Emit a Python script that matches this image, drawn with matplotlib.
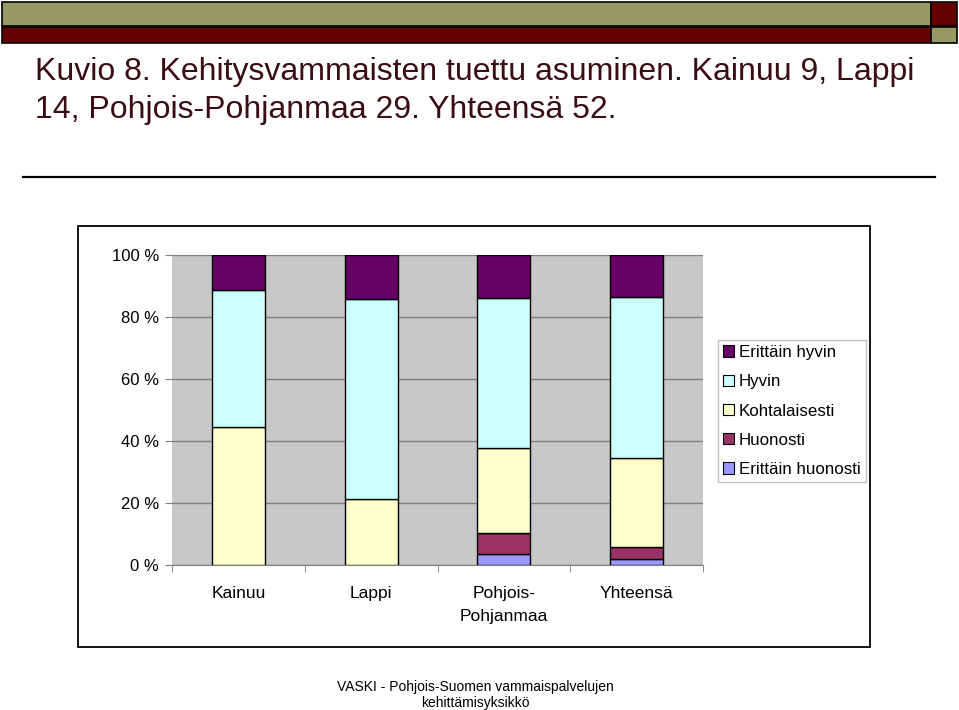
import matplotlib
matplotlib.use("Agg")
import matplotlib.pyplot as plt
from matplotlib.patches import Rectangle, Patch
from matplotlib.lines import Line2D

plt.rcParams['font.family'] = ['Liberation Sans', 'DejaVu Sans']

categories = ["Kainuu", "Lappi", "Pohjois-\nPohjanmaa", "Yhteensä"]
series_names = ["Erittäin huonosti", "Huonosti", "Kohtalaisesti", "Hyvin", "Erittäin hyvin"]
erittain_huonosti = [0.0, 0.0, 3.4, 1.9]
huonosti = [0.0, 0.0, 6.9, 3.8]
kohtalaisesti = [44.4, 21.4, 27.6, 28.8]
hyvin = [44.4, 64.3, 48.3, 51.9]
erittain_hyvin = [11.1, 14.3, 13.8, 13.5]
series_values = [erittain_huonosti, huonosti, kohtalaisesti, hyvin, erittain_hyvin]
colors = ["#9999FF", "#993366", "#FFFFCC", "#CCFFFF", "#660066"]
yticks = [0, 20, 40, 60, 80, 100]
ytick_labels = ["0 %", "20 %", "40 %", "60 %", "80 %", "100 %"]
title_lines = ["Kuvio 8. Kehitysvammaisten tuettu asuminen. Kainuu 9, Lappi",
               "14, Pohjois-Pohjanmaa 29. Yhteensä 52."]
footer = "VASKI - Pohjois-Suomen vammaispalvelujen\nkehittämisyksikkö"

W, H = 959, 710
fig = plt.figure(figsize=(W / 100, H / 100), dpi=100)
fig.patch.set_facecolor("white")


def frect(x0, y0, x1, y1, **kw):
    # pixel coords, top-down
    fig.add_artist(Rectangle((x0 / W, 1 - y1 / H), (x1 - x0) / W, (y1 - y0) / H,
                             transform=fig.transFigure, **kw))


olive = "#999966"
dred = "#660000"
frect(2, 2, 931, 26, facecolor=olive, edgecolor="black", linewidth=1.2)
frect(931, 2, 957, 26, facecolor=dred, edgecolor="black", linewidth=1.2)
frect(2, 27, 931, 43, facecolor=dred, edgecolor="black", linewidth=1.2)
frect(931, 27, 957, 43, facecolor=olive, edgecolor="black", linewidth=1.2)

title_color = "#3A0C14"
fig.text(35 / W, 1 - 80 / H, title_lines[0], fontsize=23, color=title_color,
         ha="left", va="baseline")
fig.text(35 / W, 1 - 118 / H, title_lines[1], fontsize=23, color=title_color,
         ha="left", va="baseline")

fig.add_artist(Line2D([23 / W, 935 / W], [1 - 177 / H, 1 - 177 / H],
                      transform=fig.transFigure, color="black", linewidth=1.6))

# chart frame
frect(78, 226, 870, 647, facecolor="none", edgecolor="black", linewidth=1.3)

ax = fig.add_axes([172 / W, 1 - 565 / H, 531 / W, 310 / H])
ax.set_facecolor("#C8C8C8")
x = list(range(len(categories)))
bottom = [0.0] * len(categories)
for name, vals, col in zip(series_names, series_values, colors):
    ax.bar(x, vals, width=0.4, bottom=bottom, color=col, edgecolor="black",
           linewidth=1.0, label=name, zorder=3)
    bottom = [b + v for b, v in zip(bottom, vals)]

ax.set_xlim(-0.5, len(categories) - 0.5)
ax.set_ylim(0, 100)
ax.set_yticks(yticks)
ax.set_yticklabels(ytick_labels, fontsize=12)
ax.yaxis.grid(True, color="#808080", linewidth=1.0, zorder=1)
ax.set_axisbelow(True)
ax.tick_params(axis="y", length=5, color="#808080", pad=4.5)
ax.set_xticks(x)
ax.set_xticklabels(categories, fontsize=12.5, linespacing=1.72)
ax.set_xticks([i - 0.5 for i in range(len(categories) + 1)], minor=True)
ax.tick_params(axis="x", which="major", length=0, pad=15)
ax.tick_params(axis="x", which="minor", length=5, color="#808080")
for lbl in ax.get_xticklabels():
    lbl.set_va("top")
for s in ["top", "right", "left"]:
    ax.spines[s].set_visible(False)
ax.spines["bottom"].set_color("#808080")

handles = [Patch(facecolor=c, edgecolor="black", linewidth=0.8) for c in colors[::-1]]
leg = fig.legend(handles, series_names[::-1], loc="upper left",
                 bbox_to_anchor=(718 / W, 1 - 340 / H), bbox_transform=fig.transFigure,
                 borderaxespad=0, fontsize=12.2, handlelength=0.65, handleheight=0.65,
                 handletextpad=0.28, labelspacing=0.84, borderpad=0.3,
                 frameon=True, fancybox=False, framealpha=1, edgecolor="#C0C0C0")
leg.get_frame().set_linewidth(1.0)

fig.text(475 / W, 1 - 695 / H, footer, fontsize=10, ha="center", va="center",
         linespacing=1.25, color="black")

fig.savefig("out.png", dpi=100)
